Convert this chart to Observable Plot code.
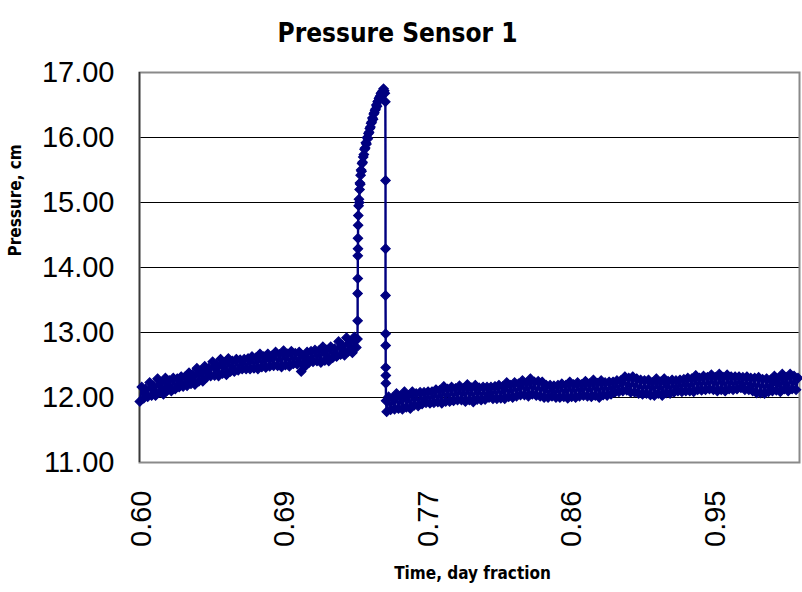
<!DOCTYPE html>
<html>
<head>
<meta charset="utf-8">
<script src="https://cdn.jsdelivr.net/npm/d3@7"></script>
<script src="https://cdn.jsdelivr.net/npm/@observablehq/plot@0.6"></script>
<style>
  html, body { margin: 0; padding: 0; background: #fff; }
  #chart { width: 802px; height: 592px; }
</style>
</head>
<body>
<div id="chart"></div>
<script>
// ---- Data ----
const beforeTime = [0.5990,0.6002,0.6014,0.6026,0.6038,0.6050,0.6062,0.6074,0.6086,0.6098,
0.6110,0.6122,0.6134,0.6146,0.6158,0.6170,0.6182,0.6194,0.6206,0.6218,
0.6230,0.6242,0.6254,0.6266,0.6278,0.6290,0.6302,0.6314,0.6326,0.6338,
0.6350,0.6362,0.6374,0.6386,0.6398,0.6410,0.6422,0.6434,0.6446,0.6458,
0.6470,0.6482,0.6494,0.6506,0.6518,0.6530,0.6542,0.6554,0.6566,0.6578,
0.6590,0.6602,0.6614,0.6626,0.6638,0.6650,0.6662,0.6674,0.6686,0.6698,
0.6710,0.6722,0.6734,0.6746,0.6758,0.6770,0.6782,0.6794,0.6806,0.6818,
0.6830,0.6842,0.6854,0.6866,0.6878,0.6890,0.6902,0.6914,0.6926,0.6938,
0.6950,0.6962,0.6974,0.6986,0.6998,0.7010,0.7022,0.7034,0.7046,0.7058,
0.7070,0.7082,0.7094,0.7106,0.7118,0.7130,0.7142,0.7154,0.7166,0.7178,
0.7190,0.7202,0.7214,0.7226,0.7238,0.7250,0.7262,0.7274,0.7286,0.7298,
0.7310];
const beforePressure = [11.94,12.16,11.99,12.13, 12.01,12.23,12.03,12.18, 12.03,12.29,12.08,12.23,
12.05,12.30,12.11,12.26, 12.10,12.30,12.13,12.29, 12.16,12.32,12.17,12.32,
12.18,12.38,12.21,12.36, 12.20,12.45,12.25,12.40, 12.25,12.48,12.31,12.45,
12.33,12.55,12.34,12.50, 12.33,12.59,12.37,12.53, 12.35,12.60,12.40,12.56,
12.40,12.59,12.42,12.58, 12.44,12.59,12.44,12.60, 12.44,12.63,12.45,12.61,
12.44,12.67,12.47,12.63, 12.46,12.67,12.48,12.64, 12.49,12.70,12.49,12.66,
12.47,12.72,12.50,12.67, 12.48,12.71,12.52,12.68, 12.51,12.70,12.40,12.62,
12.48,12.70,12.54,12.71, 12.55,12.73,12.56,12.72, 12.54,12.78,12.57,12.73,
12.56,12.78,12.61,12.75, 12.63,12.86,12.66,12.80, 12.65,12.92,12.71,12.86,
12.69,12.93,12.77];

const spikeTime = [0.7317,0.7318,0.7318,0.7319,0.7319,0.7320,0.7320,0.7321,
0.7322,0.7324,0.7326,0.7328,0.7330,0.7332,0.7334,0.7336,0.7339,0.7342,0.7345,0.7348,0.7352,0.7356,0.7360,0.7364,0.7368,0.7372,0.7376,0.7380,0.7384,0.7388,0.7392,0.7396,0.7400,0.7404,0.7408,0.7412,0.7416,0.7420,0.7424,0.7428,0.7432,0.7436,0.7440,0.7444,0.7448,0.7452,0.7456,0.7460,0.7464,0.7468,0.7472,0.7476,0.7480,0.7484,
0.7487,0.7488,0.7488,0.7488,0.7489,0.7489,0.7489,0.7490,0.7490,0.7491];
const spikePressure = [12.90,13.18,13.60,13.83,14.18,14.29,14.45,14.65,
14.80,14.95,15.05,15.00,15.20,15.30,15.28,15.42,15.50,15.48,15.60,15.62,15.70,15.74,15.82,15.84,15.92,15.90,16.00,15.98,16.06,16.08,16.14,16.16,16.22,16.24,16.30,16.28,16.36,16.38,16.42,16.44,16.50,16.48,16.55,16.56,16.60,16.62,16.64,16.68,16.66,16.70,16.72,16.75,16.72,16.68,
16.55,15.34,14.29,13.57,12.98,12.80,12.46,12.34,12.22,11.95];

const afterTime = [0.7495,0.7507,0.7519,0.7531,0.7543,0.7555,0.7567,0.7579,0.7591,0.7603,
0.7615,0.7627,0.7639,0.7651,0.7663,0.7675,0.7687,0.7699,0.7711,0.7723,
0.7735,0.7747,0.7759,0.7771,0.7783,0.7795,0.7807,0.7819,0.7831,0.7843,
0.7855,0.7867,0.7879,0.7891,0.7903,0.7915,0.7927,0.7939,0.7951,0.7963,
0.7975,0.7987,0.7999,0.8011,0.8023,0.8035,0.8047,0.8059,0.8071,0.8083,
0.8095,0.8107,0.8119,0.8131,0.8143,0.8155,0.8167,0.8179,0.8191,0.8203,
0.8215,0.8227,0.8239,0.8251,0.8263,0.8275,0.8287,0.8299,0.8311,0.8323,
0.8335,0.8347,0.8359,0.8371,0.8383,0.8395,0.8407,0.8419,0.8431,0.8443,
0.8455,0.8467,0.8479,0.8491,0.8503,0.8515,0.8527,0.8539,0.8551,0.8563,
0.8575,0.8587,0.8599,0.8611,0.8623,0.8635,0.8647,0.8659,0.8671,0.8683,
0.8695,0.8707,0.8719,0.8731,0.8743,0.8755,0.8767,0.8779,0.8791,0.8803,
0.8815,0.8827,0.8839,0.8851,0.8863,0.8875,0.8887,0.8899,0.8911,0.8923,
0.8935,0.8947,0.8959,0.8971,0.8983,0.8995,0.9007,0.9019,0.9031,0.9043,
0.9055,0.9067,0.9079,0.9091,0.9103,0.9115,0.9127,0.9139,0.9151,0.9163,
0.9175,0.9187,0.9199,0.9211,0.9223,0.9235,0.9247,0.9259,0.9271,0.9283,
0.9295,0.9307,0.9319,0.9331,0.9343,0.9355,0.9367,0.9379,0.9391,0.9403,
0.9415,0.9427,0.9439,0.9451,0.9463,0.9475,0.9487,0.9499,0.9511,0.9523,
0.9535,0.9547,0.9559,0.9571,0.9583,0.9595,0.9607,0.9619,0.9631,0.9643,
0.9655,0.9667,0.9679,0.9691,0.9703,0.9715,0.9727,0.9739,0.9751,0.9763,
0.9775,0.9787,0.9799,0.9811,0.9823,0.9835,0.9847,0.9859,0.9871,0.9883,
0.9895,0.9907,0.9919,0.9931,0.9943,0.9955,0.9967,0.9979,0.9991,1.0003];
const afterPressure = [11.78,12.01,11.81,11.99, 11.82,12.06,11.83,12.01, 11.82,12.09,11.85,12.03,
11.83,12.09,11.88,12.06, 11.87,12.08,11.90,12.08, 11.92,12.09,11.91,12.09,
11.92,12.12,11.93,12.11, 11.91,12.17,11.94,12.13, 11.94,12.16,11.95,12.14,
11.96,12.18,11.96,12.14, 11.94,12.20,11.96,12.15, 11.93,12.19,11.97,12.15,
11.96,12.16,11.97,12.16, 12.00,12.16,11.98,12.17, 11.98,12.19,11.99,12.17,
11.98,12.23,12.01,12.19, 12.00,12.23,12.02,12.21, 12.04,12.26,12.04,12.22,
12.02,12.29,12.05,12.24, 12.03,12.25,12.02,12.24, 12.00,12.19,12.00,12.19,
12.02,12.18,12.00,12.19, 12.00,12.21,12.01,12.19, 11.99,12.24,12.01,12.20,
12.00,12.23,12.02,12.20, 12.03,12.25,12.02,12.21, 12.01,12.27,12.03,12.22,
12.00,12.26,12.04,12.23, 12.03,12.24,12.05,12.24, 12.08,12.26,12.09,12.26,
12.10,12.32,12.11,12.30, 12.08,12.32,12.08,12.29, 12.06,12.27,12.05,12.26,
12.06,12.27,12.04,12.23, 12.03,12.29,12.06,12.24, 12.03,12.29,12.07,12.25,
12.06,12.27,12.08,12.26, 12.10,12.27,12.09,12.28, 12.10,12.30,12.10,12.29,
12.09,12.34,12.12,12.30, 12.11,12.33,12.12,12.31, 12.13,12.35,12.12,12.31,
12.10,12.36,12.12,12.31, 12.10,12.35,12.13,12.32, 12.12,12.32,12.13,12.32,
12.15,12.31,12.12,12.32, 12.12,12.30,12.10,12.30, 12.07,12.31,12.07,12.28,
12.06,12.29,12.09,12.27, 12.10,12.33,12.11,12.29, 12.09,12.36,12.13,12.31,
12.10,12.36,12.13,12.33, 12.12,12.30];

const yTicks = [11, 12, 13, 14, 15, 16, 17];
const xTicks = [0.6, 0.6875, 0.775, 0.8625, 0.95];
const xTickLabels = ["0.60", "0.69", "0.77", "0.86", "0.95"];

const titleText = "Pressure Sensor 1";
const xLabel = "Time, day fraction";
const yLabel = "Pressure, cm";

// ---- Build table ----
const allTime = beforeTime.concat(spikeTime, afterTime);
const allPressure = beforePressure.concat(spikePressure, afterPressure);
const data = allTime.map((t, i) => ({time: t, pressure: allPressure[i]}));

const navy = "#000080";
const labelFont = "'Liberation Sans', Arial, sans-serif";
const condFont = "'DejaVu Sans Condensed', 'Liberation Sans Narrow', 'Liberation Sans', sans-serif";

const chart = Plot.plot({
  width: 802,
  height: 592,
  marginLeft: 139,
  marginRight: 3,
  marginTop: 72,
  marginBottom: 130,
  style: {background: "#fff", color: "#000"},
  x: {domain: [0.5988, 1.0012]},
  y: {domain: [11, 17]},
  marks: [
    Plot.gridY(yTicks.slice(1, -1), {stroke: "#000", strokeOpacity: 1, strokeWidth: 1.2}),
    Plot.frame({stroke: "#8a8a8a", strokeWidth: 2}),
    Plot.ruleX([0.5988], {stroke: "#3a3a3a", strokeWidth: 1.6}),
    Plot.axisY(yTicks, {
      tickSize: 0, tickPadding: 25, fontSize: 29,
      tickFormat: d => d.toFixed(2), label: null,
      fontFamily: labelFont
    }),
    Plot.axisX(xTicks, {
      tickSize: 0, tickPadding: 28, fontSize: 29, tickRotate: -90,
      tickFormat: (d, i) => xTickLabels[i], label: null,
      fontFamily: labelFont
    }),
    Plot.line(data, {x: "time", y: "pressure", stroke: navy, strokeWidth: 2.4}),
    Plot.dot(data, {x: "time", y: "pressure", symbol: "diamond2", r: 4.2, fill: navy, stroke: navy, strokeWidth: 1.2}),
    Plot.text([titleText], {frameAnchor: "top", dx: -72, dy: -49, fontSize: 26, fontWeight: "bold", fontFamily: condFont, fill: "#000"}),
    Plot.text([xLabel], {frameAnchor: "bottom", dx: 3, dy: 116, fontSize: 17, fontWeight: "bold", fontFamily: condFont, fill: "#000"}),
    Plot.text([yLabel], {frameAnchor: "left", dx: -124, dy: -11, rotate: -90, fontSize: 17, fontWeight: "bold", fontFamily: condFont, fill: "#000"})
  ]
});
document.getElementById("chart").appendChild(chart);
</script>
</body>
</html>
